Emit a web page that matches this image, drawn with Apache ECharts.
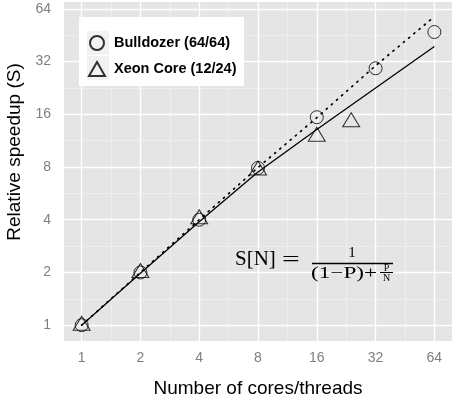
<!DOCTYPE html>
<html>
<head>
<meta charset="utf-8">
<script src="https://cdn.jsdelivr.net/npm/echarts@6/dist/echarts.min.js"></script>
<style>
  html, body { margin: 0; padding: 0; background: #fff; }
  #chart { width: 454px; height: 397px; }
</style>
</head>
<body>
<div id="chart"></div>
<script>
var cores = [1, 2, 4, 8, 16, 32, 64];
var bulldozer = [1, 2, 4, 7.9, 15.4, 29.3, 47.2];
var xeonCores = [1, 2, 4, 8, 16, 24];
var xeon = [1, 2, 4.05, 7.7, 12.0, 14.5];
// fitted curves (dotted = Bulldozer, solid = Xeon)
var fitCores = [1, 2, 4, 8, 16, 32, 64];
var fitBulldozer = [1, 2, 4, 7.95, 15.3, 30.3, 57.8];
var fitXeon = [1, 1.98, 3.9, 7.5, 13.1, 22.6, 39.0];
var tickLabels = [1, 2, 4, 8, 16, 32, 64];

function l2(v) { return Math.log(v) / Math.LN2; }
function pairs(xs, ys) {
  return xs.map(function (x, i) { return [l2(x), l2(ys[i])]; });
}
function fmt(v) { return String(Math.round(Math.pow(2, v))); }

var majorBreaks = tickLabels.map(l2);
var minorBreaks = majorBreaks.slice(1).map(function (b) { return b - 0.5; });

var gridLines = [];
minorBreaks.forEach(function (b) {
  gridLines.push({ xAxis: b, lineStyle: { color: '#F2F2F2', width: 0.7, type: 'solid' } });
  gridLines.push({ yAxis: b, lineStyle: { color: '#F2F2F2', width: 0.7, type: 'solid' } });
});
majorBreaks.forEach(function (b) {
  gridLines.push({ xAxis: b, lineStyle: { color: '#FFFFFF', width: 1.3, type: 'solid' } });
  gridLines.push({ yAxis: b, lineStyle: { color: '#FFFFFF', width: 1.3, type: 'solid' } });
});

var font = 'Liberation Sans';
var serif = 'Liberation Serif';

var myChart = echarts.init(document.getElementById('chart'));
var option = {
  animation: false,
  grid: {
    left: 64, right: 2, top: 2, bottom: 56,
    outerBoundsMode: 'none',
    show: true, backgroundColor: '#E5E5E5', borderWidth: 0
  },
  xAxis: {
    type: 'value', min: -0.3, max: 6.3,
    axisLine: { show: false },
    axisTick: { show: true, customValues: majorBreaks, length: 5, lineStyle: { color: '#7f7f7f', width: 1 } },
    axisLabel: { customValues: majorBreaks, formatter: fmt, color: '#7f7f7f', fontSize: 14, margin: 10, fontFamily: font },
    splitLine: { show: false },
    name: 'Number of cores/threads',
    nameLocation: 'middle',
    nameGap: 38,
    nameTextStyle: { fontSize: 19, color: '#000', fontFamily: font }
  },
  yAxis: {
    type: 'value', min: -0.3, max: 6.13,
    axisLine: { show: false },
    axisTick: { show: true, customValues: majorBreaks, length: 5, lineStyle: { color: '#7f7f7f', width: 1 } },
    axisLabel: { customValues: majorBreaks, formatter: fmt, color: '#7f7f7f', fontSize: 14, margin: 13, fontFamily: font },
    splitLine: { show: false }
  },
  legend: {
    orient: 'vertical',
    left: 88, top: 35,
    padding: 0,
    itemWidth: 16, itemHeight: 14, itemGap: 10,
    z: 10,
    data: [
      { name: 'Bulldozer (64/64)', icon: 'circle' },
      { name: 'Xeon Core (12/24)', icon: 'triangle' }
    ],
    textStyle: { fontSize: 14.5, fontWeight: 'bold', color: '#000', fontFamily: font, padding: [0, 0, 0, 4] },
    selectedMode: false
  },
  graphic: [
    // legend box + key backgrounds
    { type: 'rect', z: 8, silent: true, shape: { x: 79, y: 17, width: 165, height: 69 }, style: { fill: '#fff' } },
    { type: 'rect', z: 9, silent: true, shape: { x: 87, y: 31, width: 22, height: 24 }, style: { fill: '#F2F2F2' } },
    { type: 'rect', z: 9, silent: true, shape: { x: 87, y: 56, width: 22, height: 24 }, style: { fill: '#F2F2F2' } },
    // y axis title
    { type: 'text', z: 5, x: 15, y: 152, rotation: Math.PI / 2,
      style: { text: 'Relative speedup (S)', fontSize: 19, fill: '#000', fontFamily: font, align: 'center', verticalAlign: 'middle' } },
    // formula S[N] = 1 / ((1-P) + P/N)
    { type: 'text', z: 5, x: 235, y: 259,
      style: { text: 'S[N]', fontSize: 21, fill: '#000', fontFamily: serif, align: 'left', verticalAlign: 'middle' } },
    { type: 'text', z: 5, x: 282, y: 260, scaleX: 1.5,
      style: { text: '=', fontSize: 21, fill: '#000', fontFamily: serif, align: 'left', verticalAlign: 'middle' } },
    { type: 'text', z: 5, x: 352, y: 253,
      style: { text: '1', fontSize: 15, fill: '#000', fontFamily: serif, align: 'center', verticalAlign: 'middle' } },
    { type: 'line', z: 5, silent: true, shape: { x1: 312, y1: 263.5, x2: 393, y2: 263.5 }, style: { stroke: '#000', lineWidth: 1.3 } },
    { type: 'text', z: 5, x: 311, y: 273.5, scaleX: 1.45,
      style: { text: '(1\u2212P)+', fontSize: 16, fill: '#000', fontFamily: serif, align: 'left', verticalAlign: 'middle' } },
    { type: 'text', z: 5, x: 386.5, y: 268,
      style: { text: 'P', fontSize: 10, fill: '#000', fontFamily: serif, align: 'center', verticalAlign: 'middle' } },
    { type: 'line', z: 5, silent: true, shape: { x1: 380, y1: 272.5, x2: 393, y2: 272.5 }, style: { stroke: '#000', lineWidth: 1 } },
    { type: 'text', z: 5, x: 386.5, y: 278,
      style: { text: 'N', fontSize: 10, fill: '#000', fontFamily: serif, align: 'center', verticalAlign: 'middle' } }
  ],
  series: [
    {
      name: 'grid', type: 'line', data: [], silent: true, z: 1,
      markLine: {
        z: 1, silent: true, symbol: 'none', animation: false,
        label: { show: false }, emphasis: { disabled: true },
        data: gridLines
      }
    },
    {
      name: 'fitBulldozer', type: 'line', z: 3, symbol: 'none', silent: true,
      data: pairs(fitCores, fitBulldozer),
      lineStyle: { color: '#000', width: 1.7, type: [1.2, 5.6], cap: 'round' }
    },
    {
      name: 'fitXeon', type: 'line', z: 3, symbol: 'none', silent: true,
      data: pairs(fitCores, fitXeon),
      lineStyle: { color: '#000', width: 1.3, type: 'solid' }
    },
    {
      name: 'Bulldozer (64/64)', type: 'scatter', z: 4,
      symbol: 'circle', symbolSize: 13,
      itemStyle: { color: 'transparent', borderColor: '#000', borderWidth: 1 },
      data: pairs(cores, bulldozer)
    },
    {
      name: 'Xeon Core (12/24)', type: 'scatter', z: 4,
      symbol: 'triangle', symbolSize: [17, 14], symbolOffset: [0, -2],
      itemStyle: { color: 'transparent', borderColor: '#000', borderWidth: 1 },
      data: pairs(xeonCores, xeon)
    }
  ]
};
myChart.setOption(option);
</script>
</body>
</html>
